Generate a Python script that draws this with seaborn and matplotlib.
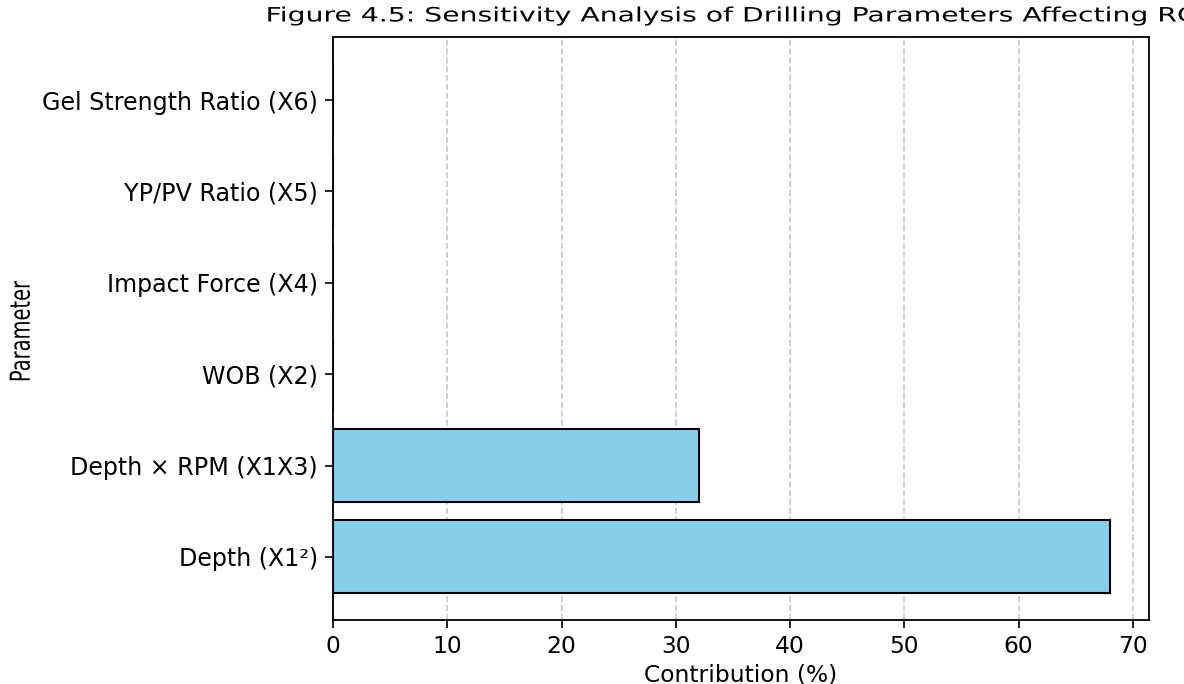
import matplotlib
matplotlib.use("Agg")
import matplotlib.pyplot as plt
import matplotlib.patheffects as pe
from matplotlib.transforms import Affine2D
import seaborn as sns
import pandas as pd

parameters = ["Gel Strength Ratio (X6)", "YP/PV Ratio (X5)", "Impact Force (X4)",
              "WOB (X2)", "Depth \u00d7 RPM (X1X3)", "Depth (X1\u00b2)"]
contribution = [0, 0, 0, 0, 32, 68]
title = "Figure 4.5: Sensitivity Analysis of Drilling Parameters Affecting ROP"


class HStretch(pe.AbstractPathEffect):
    """Stretch the drawn text horizontally about its own centre."""

    def __init__(self, sx=1.0, dy=0.0):
        super().__init__()
        self.sx = sx
        self.dy = dy

    def draw_path(self, renderer, gc, tpath, affine, rgbFace=None):
        ext = tpath.get_extents(affine)
        cx = 0.5 * (ext.x0 + ext.x1)
        aff = affine + Affine2D().translate(-cx, 0).scale(self.sx, 1.0).translate(cx, self.dy)
        renderer.draw_path(gc, tpath, aff, rgbFace)


sns.set_style("white")
plt.rcParams["font.family"] = ["DejaVu Sans"]
plt.rcParams["text.color"] = "black"
plt.rcParams["axes.labelcolor"] = "black"
plt.rcParams["xtick.color"] = "black"
plt.rcParams["ytick.color"] = "black"

df = pd.DataFrame({"Parameter": parameters, "Contribution (%)": contribution})

fig = plt.figure(figsize=(11.84, 6.84), dpi=100)
ax = fig.add_axes([0.2813, 0.0936, 0.6891, 0.8523])
sns.barplot(data=df, x="Contribution (%)", y="Parameter", order=parameters,
            color="skyblue", edgecolor="black", linewidth=1.5, saturation=1, ax=ax)
ax.set_ylim(len(parameters) - 1 + 0.69, -0.69)
ax.set_xlim(0, 71.4)
ax.grid(axis="x", linestyle="--", color="#b0b0b0", alpha=0.7, linewidth=1.2)
ax.set_axisbelow(True)
for s in ax.spines.values():
    s.set_visible(True)
    s.set_color("black")
    s.set_linewidth(1.3)
ax.tick_params(axis="both", which="major", length=6, width=1.2,
               color="black", left=True, bottom=True, pad=5)
ax.tick_params(axis="y", labelsize=17.1)
ax.tick_params(axis="x", labelsize=16.8)
ax.set_xlabel("Contribution (%)", fontsize=16.8, labelpad=4)
ylab = ax.set_ylabel("Parameter", fontsize=14, labelpad=8)
ylab.set_path_effects([HStretch(1.42, dy=-3)])
ttl = ax.set_title(title, fontsize=14.2, pad=11.2)
ttl.set_path_effects([HStretch(1.433)])

fig.savefig("out.png", dpi=100)
